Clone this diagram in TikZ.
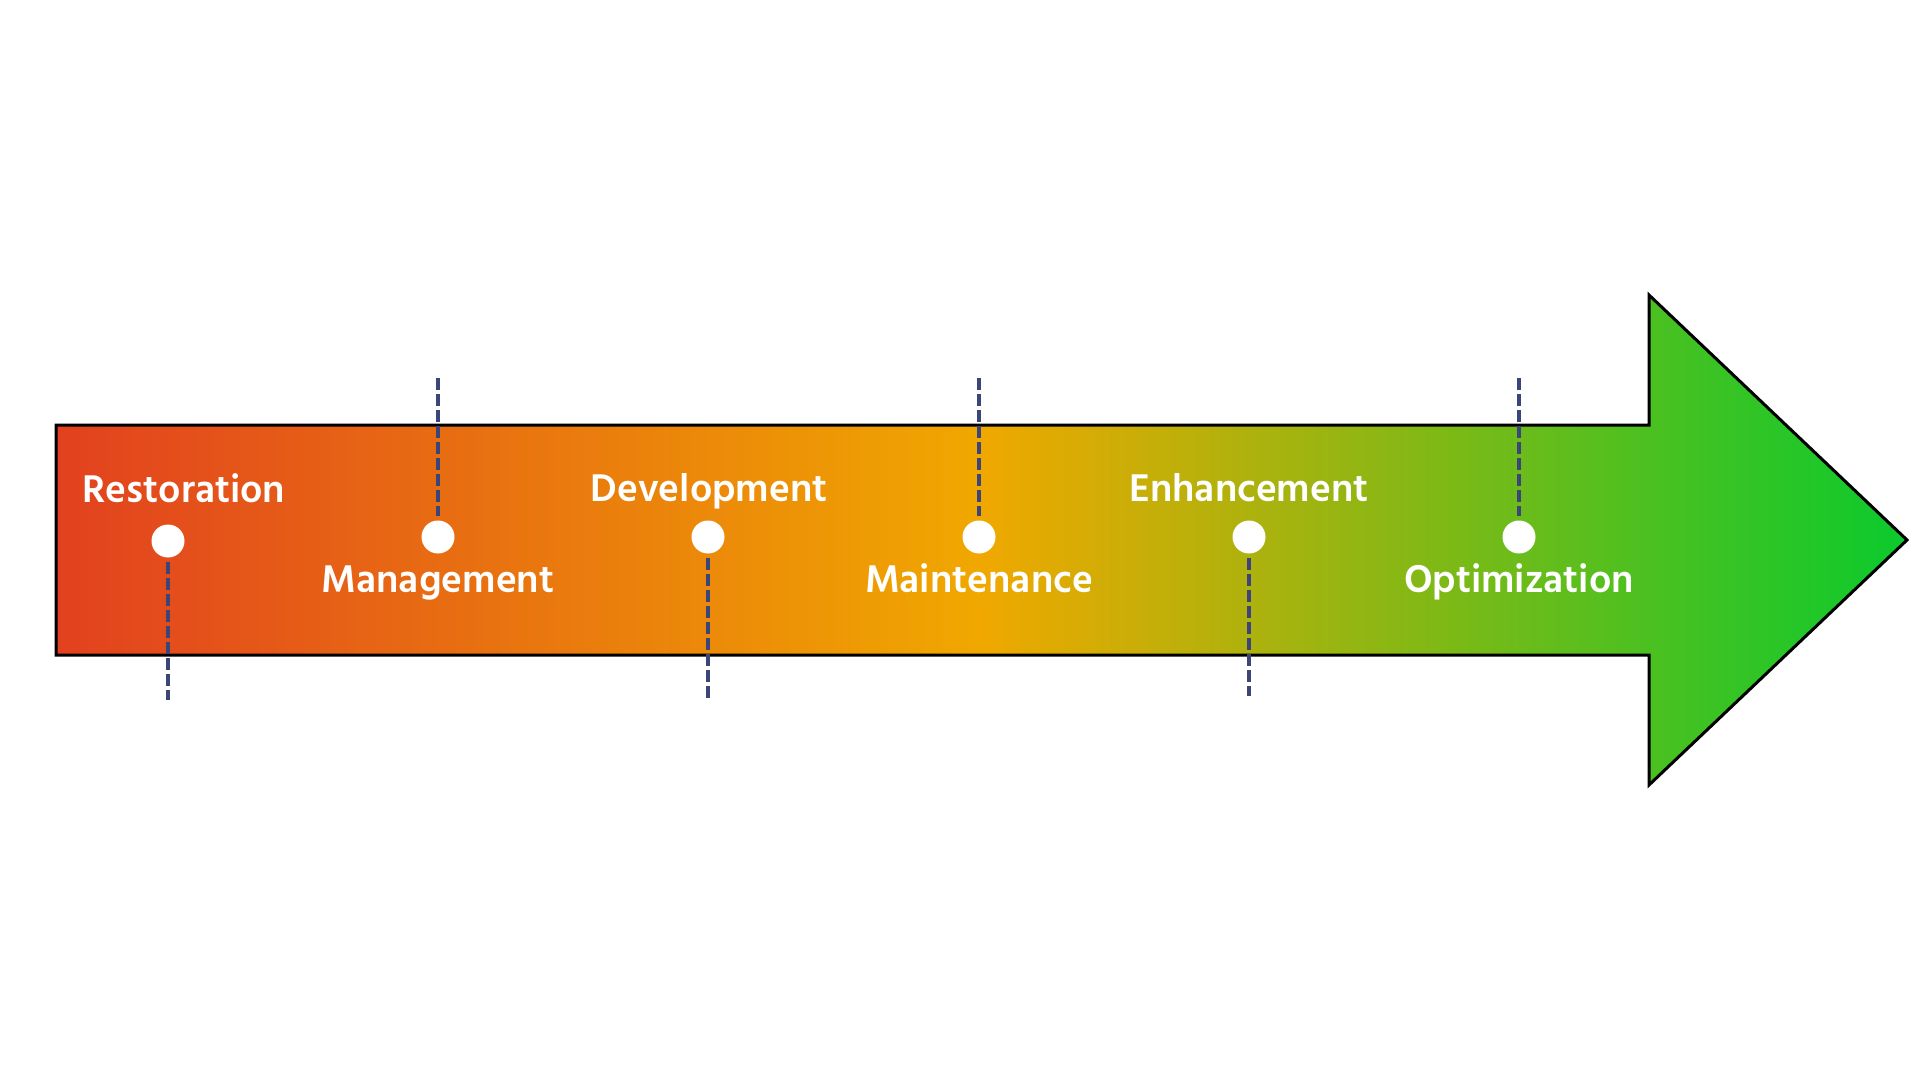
\documentclass[tikz,border=0pt]{standalone}
\usepackage{fontspec}
\setmainfont{Hind Siliguri}
\definecolor{arrowred}{HTML}{E2411F}
\definecolor{arrowyellow}{HTML}{F0A800}
\definecolor{arrowgreen}{HTML}{0BCA2D}
\definecolor{dashblue}{HTML}{3B4577}
\tikzset{
  dotnode/.style={circle, fill=white, draw=none, minimum size=16.5pt, inner sep=0pt},
  lbl/.style={text=white, font=\fontsize{19.8}{22}\selectfont\bfseries, inner sep=0pt, anchor=base},
  dashline/.style={draw=dashblue, line width=2pt, dash pattern=on 6pt off 2pt},
  outline/.style={draw=black, line width=1.5pt, line join=miter}
}
\begin{document}
\begin{tikzpicture}[x=0.5pt,y=-0.5pt]
\useasboundingbox (0,0) rectangle (1920,1080);
\fill[white] (0,0) rectangle (1920,1080);
% arrow body
\shade[left color=arrowred, right color=arrowgreen, middle color=arrowyellow]
  (56,425) -- (1649,425) -- (1649,295) -- (1907,540) -- (1649,785) -- (1649,655) -- (56,655) -- cycle;
\draw[outline]
  (56,425) -- (1649,425) -- (1649,295) -- (1907,540) -- (1649,785) -- (1649,655) -- (56,655) -- cycle;
% dots
\node[dotnode] (d1) at (168,541) {};
\node[dotnode] (d2) at (438,537) {};
\node[dotnode] (d3) at (708,537) {};
\node[dotnode] (d4) at (979,537) {};
\node[dotnode] (d5) at (1249,537) {};
\node[dotnode] (d6) at (1519,537) {};
% dashed connector ends
\coordinate (e1) at (168,700);
\coordinate (e2) at (438,378);
\coordinate (e3) at (708,700);
\coordinate (e4) at (979,378);
\coordinate (e5) at (1249,696);
\coordinate (e6) at (1519,378);
\draw[dashline, shorten <=2pt] (d1) -- (e1);
\draw[dashline, shorten >=2pt] (e2) -- (d2);
\draw[dashline, shorten <=2pt] (d3) -- (e3);
\draw[dashline, shorten >=2pt] (e4) -- (d4);
\draw[dashline, shorten <=2pt] (d5) -- (e5);
\draw[dashline, shorten >=2pt] (e6) -- (d6);
% labels
\node[lbl] (t1) at (184,502) {Restoration};
\node[lbl] (t2) at (438,592) {Management};
\node[lbl] (t3) at (709,501) {Development};
\node[lbl] (t4) at (979,592) {Maintenance};
\node[lbl] (t5) at (1249,501) {Enhancement};
\node[lbl] (t6) at (1519,592) {Optimization};
\end{tikzpicture}
\end{document}
